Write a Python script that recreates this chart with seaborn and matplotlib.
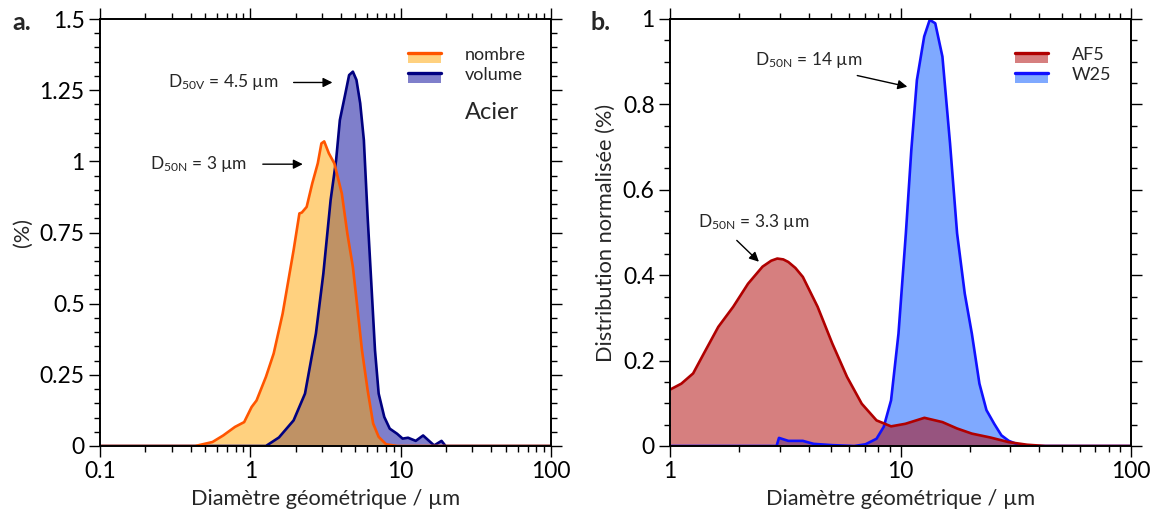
import numpy as np
import pandas as pd
import seaborn as sns
import matplotlib.pyplot as plt
from matplotlib.ticker import MultipleLocator, LogLocator, FuncFormatter, NullFormatter
from matplotlib.legend_handler import HandlerBase
from matplotlib.patches import Patch, Rectangle
from matplotlib.lines import Line2D

# --- panel a : Acier, distribution en nombre / volume ---
nombre_d = [0.1, 0.43, 0.56, 0.66, 0.79, 0.91, 1.02, 1.10, 1.27, 1.43, 1.64, 1.84, 1.94, 2.12, 2.2,
            2.37, 2.58, 2.81, 2.97, 3.1, 3.33, 3.62, 4.06, 4.42, 4.81, 5.09, 5.53, 6.03, 6.56,
            7.14, 8.0, 9.5, 100]
nombre_v = [0, 0, 0.014, 0.037, 0.067, 0.084, 0.137, 0.16, 0.243, 0.325, 0.465, 0.618, 0.688, 0.817, 0.82,
            0.84, 0.922, 0.993, 1.063, 1.07, 1.028, 0.993, 0.887, 0.746, 0.629, 0.512, 0.336, 0.196, 0.079,
            0.032, 0.006, 0, 0]

volume_d = [0.1, 1.27, 1.55, 1.94, 2.31, 2.73, 3.06, 3.42, 3.72, 3.94, 4.29, 4.54, 4.81, 5.08, 5.38,
            5.69, 6.03, 6.38, 6.75, 7.14, 7.78, 8.46, 9.47, 10.3, 11.2, 12.6, 14.1, 15.3, 16.7,
            18.7, 19.9, 100]
volume_v = [0, 0, 0.03, 0.09, 0.184, 0.395, 0.606, 0.864, 1.004, 1.145, 1.239, 1.303, 1.315, 1.286, 1.204,
            1.075, 0.805, 0.571, 0.336, 0.184, 0.102, 0.061, 0.043, 0.026, 0.029, 0.018, 0.037, 0.02, 0.002,
            0.018, 0, 0]

# --- panel b : AF5 / W25 ---
af5_d = [1.0, 1.12, 1.26, 1.40, 1.62, 1.88, 2.18, 2.52, 2.75, 2.92, 3.1, 3.26, 3.5, 3.77, 4.37, 5.06, 5.86,
         6.79, 7.87, 9.1, 10.5, 12.7, 15.2, 17.6, 20.4, 24.5, 29.5, 35.4, 42.5, 100]
af5_v = [0.132, 0.146, 0.170, 0.216, 0.279, 0.326, 0.380, 0.420, 0.434, 0.439, 0.437, 0.431, 0.417, 0.396,
         0.326, 0.240, 0.162, 0.099, 0.060, 0.046, 0.052, 0.066, 0.056, 0.041, 0.029, 0.020, 0.009, 0.003,
         0, 0]

w25_d = [1.0, 2.9, 2.97, 3.26, 3.77, 4.2, 5.06, 6.3, 7.05, 7.87, 8.46, 9.1, 9.8, 10.55, 11.14, 11.78,
         12.67, 13.39, 14.15, 15.2, 16.4, 17.6, 19.0, 20.4, 22.0, 23.6, 25.5, 27.4, 29.5, 32.9, 36, 100]
w25_v = [0, 0, 0.019, 0.012, 0.012, 0.005, 0.002, 0, 0.004, 0.017, 0.045, 0.107, 0.263, 0.498, 0.693, 0.857,
         0.959, 0.998, 0.990, 0.912, 0.709, 0.498, 0.357, 0.263, 0.146, 0.084, 0.052, 0.025, 0.012, 0.002, 0, 0]


class TopLineHandler(HandlerBase):
    # patch rempli avec une ligne sur le bord haut
    def create_artists(self, legend, orig_handle, xdescent, ydescent, width, height, fontsize, trans):
        ytop = height * 0.55 - ydescent
        rect = Rectangle((-xdescent, ytop - height * 0.8), width, height * 0.8,
                         facecolor=orig_handle.get_facecolor(), edgecolor="none", transform=trans)
        line = Line2D([-xdescent, -xdescent + width], [ytop, ytop],
                      color=orig_handle.get_edgecolor(), lw=2.4, transform=trans)
        return [rect, line]


sns.set_theme(style="ticks")
plt.rcParams["font.family"] = ["Lato", "DejaVu Sans"]
plt.rcParams["mathtext.fontset"] = "custom"
plt.rcParams["mathtext.rm"] = "Lato"
plt.rcParams["mathtext.it"] = "Lato:italic"

fig = plt.figure(figsize=(11.5, 5.24), dpi=100)
ax_a = fig.add_axes([100 / 1150, 78 / 524, 451 / 1150, 427 / 524])
ax_b = fig.add_axes([670 / 1150, 78 / 524, 461 / 1150, 427 / 524])

fmt = FuncFormatter(lambda v, p: f"{v:g}")


def style_axes(ax, xmin, xmax, ymax, ymaj, ymin):
    ax.set_xscale("log")
    ax.set_xlim(xmin, xmax)
    ax.set_ylim(0, ymax)
    ax.xaxis.set_major_locator(LogLocator(base=10, numticks=10))
    ax.xaxis.set_minor_locator(LogLocator(base=10, subs=np.arange(2, 10), numticks=20))
    ax.xaxis.set_major_formatter(fmt)
    ax.xaxis.set_minor_formatter(NullFormatter())
    ax.yaxis.set_major_locator(MultipleLocator(ymaj))
    ax.yaxis.set_minor_locator(MultipleLocator(ymin))
    ax.yaxis.set_major_formatter(fmt)
    ax.tick_params(which="both", direction="out", top=True, right=True, colors="black",
                   labelsize=16.5, width=1.0)
    ax.tick_params(which="major", length=8, pad=3)
    ax.tick_params(which="minor", length=4.5)
    for s in ax.spines.values():
        s.set_linewidth(1.4)
        s.set_color("black")
    ax.set_xlabel("Diamètre géométrique / µm", fontsize=15.7, labelpad=5)


# panel a
ax = ax_a
ax.fill_between(volume_d, volume_v, color="#000099", alpha=0.5, lw=0)
sns.lineplot(x=volume_d, y=volume_v, ax=ax, color="#000080", lw=1.9)
ax.fill_between(nombre_d, nombre_v, color="orange", alpha=0.5, lw=0)
sns.lineplot(x=nombre_d, y=nombre_v, ax=ax, color="#FF5500", lw=1.9)
style_axes(ax, 0.1, 100, 1.5, 0.25, 0.05)
ax.set_ylabel("(%)", fontsize=15.7, labelpad=5)

arr = dict(arrowstyle="-|>", color="black", lw=1.0, mutation_scale=14)
ax.text(0.284, 1.277, r"$\mathregular{D_{50V}}$ = 4.5 µm", fontsize=12.5, ha="left", va="center")
ax.annotate("", xy=(3.67, 1.277), xytext=(1.86, 1.277), arrowprops=arr)
ax.text(0.214, 0.99, r"$\mathregular{D_{50N}}$ = 3 µm", fontsize=12.5, ha="left", va="center")
ax.annotate("", xy=(2.33, 0.99), xytext=(1.16, 0.99), arrowprops=arr)

h_a = [Patch(facecolor=(1, 0.647, 0, 0.5), edgecolor="#FF5500", label="nombre"),
       Patch(facecolor=(0, 0, 0.6, 0.5), edgecolor="#000080", label="volume")]
ax.legend(handles=h_a, handler_map={Patch: TopLineHandler()}, loc="upper left",
          bbox_to_anchor=(0.683, 0.935), frameon=False, fontsize=13, borderpad=0,
          handlelength=1.85, handletextpad=1.3, labelspacing=0.25, borderaxespad=0)
ax.text(0.809, 0.78, "Acier", transform=ax.transAxes, fontsize=17, ha="left", va="center")

# panel b
ax = ax_b
ax.fill_between(w25_d, w25_v, color="#0055FF", alpha=0.5, lw=0)
sns.lineplot(x=w25_d, y=w25_v, ax=ax, color="#1010FF", lw=1.9)
ax.fill_between(af5_d, af5_v, color="#AF0000", alpha=0.5, lw=0)
sns.lineplot(x=af5_d, y=af5_v, ax=ax, color="#B00000", lw=1.9)
style_axes(ax, 1, 100, 1.0, 0.2, 0.05)
ax.set_ylabel("Distribution normalisée (%)", fontsize=15.7, labelpad=5)

ax.text(2.34, 0.904, r"$\mathregular{D_{50N}}$ = 14 µm", fontsize=12.5, ha="left", va="center")
ax.annotate("", xy=(11.0, 0.84), xytext=(6.32, 0.869), arrowprops=arr)
ax.text(1.32, 0.525, r"$\mathregular{D_{50N}}$ = 3.3 µm", fontsize=12.5, ha="left", va="center")
ax.annotate("", xy=(2.48, 0.427), xytext=(1.91, 0.486), arrowprops=arr)

h_b = [Patch(facecolor=(0.686, 0, 0, 0.5), edgecolor="#B00000", label="AF5"),
       Patch(facecolor=(0, 0.333, 1, 0.5), edgecolor="#1010FF", label="W25")]
ax.legend(handles=h_b, handler_map={Patch: TopLineHandler()}, loc="upper left",
          bbox_to_anchor=(0.748, 0.935), frameon=False, fontsize=13, borderpad=0,
          handlelength=1.85, handletextpad=1.3, labelspacing=0.25, borderaxespad=0)

fig.text(12 / 1150, 1 - 22 / 524, "a.", fontsize=18, fontweight="bold", va="center")
fig.text(590 / 1150, 1 - 22 / 524, "b.", fontsize=18, fontweight="bold", va="center")

fig.savefig("out.png", dpi=100)
